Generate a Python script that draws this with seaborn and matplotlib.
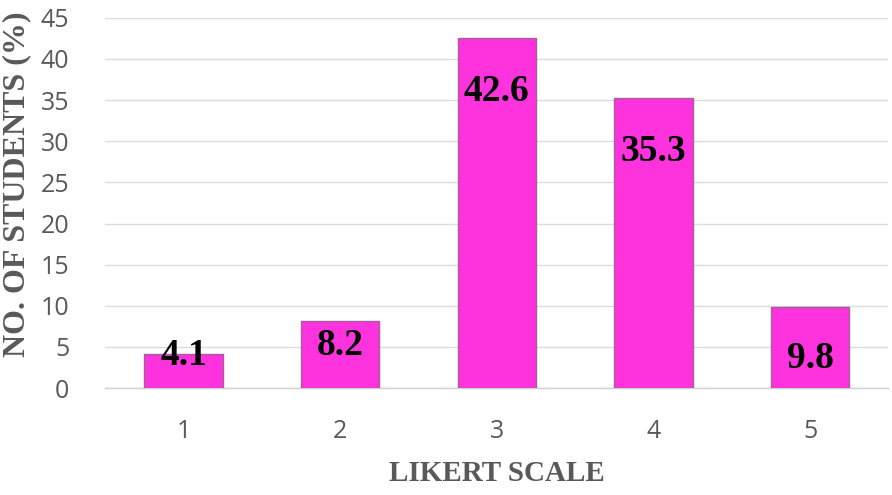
import matplotlib
matplotlib.use("Agg")
import matplotlib.pyplot as plt
import seaborn as sns
import pandas as pd

# Survey responses on a five-point Likert scale
likert_levels = ["1", "2", "3", "4", "5"]
percent_students = [4.1, 8.2, 42.6, 35.3, 9.8]
# Height (in axis units) where each value label sits on its bar
label_anchor = [3.9, 5.2, 36.0, 28.7, 3.65]
y_ticks = [0, 5, 10, 15, 20, 25, 30, 35, 40, 45]

df = pd.DataFrame({"level": likert_levels, "pct": percent_students})

sns.set_theme(style="white")
plt.rcParams["font.family"] = ["Open Sans", "DejaVu Sans"]

fig = plt.figure(figsize=(8.92, 4.95), dpi=100)
ax = fig.add_axes([0.118, 0.216, 0.878, 0.748])

sns.barplot(data=df, x="level", y="pct", ax=ax, color="#FF33DD",
            saturation=1, width=0.5, edgecolor="#A0609A", linewidth=1.0,
            zorder=3)

ax.set_ylim(0, 45)
ax.set_xlim(-0.5, 4.5)
ax.set_yticks(y_ticks)
ax.yaxis.grid(True, color="#DCDCDC", linewidth=1.0, zorder=0)
ax.set_axisbelow(True)
for s in ["top", "right", "left"]:
    ax.spines[s].set_visible(False)
ax.spines["bottom"].set_color("#D0D0D0")
ax.spines["bottom"].set_linewidth(1.0)
ax.tick_params(axis="both", length=0, labelsize=18, labelcolor="#595959")
ax.tick_params(axis="x", pad=22)
ax.tick_params(axis="y", pad=26)

for i, (v, ypos) in enumerate(zip(percent_students, label_anchor)):
    ax.text(i, ypos, f"{v}", ha="center", va="center", fontsize=27,
            fontweight="bold", family="Liberation Serif", color="black",
            zorder=5)

ax.set_xlabel("LIKERT SCALE", family="Liberation Serif", fontweight="bold",
              fontsize=21, color="#595959", labelpad=12)
ax.set_ylabel("NO. OF STUDENTS (%)", family="Liberation Serif",
              fontweight="bold", fontsize=23, color="#595959")
ax.yaxis.set_label_coords(-0.095, 0.55)

fig.savefig("out.png", dpi=100)
